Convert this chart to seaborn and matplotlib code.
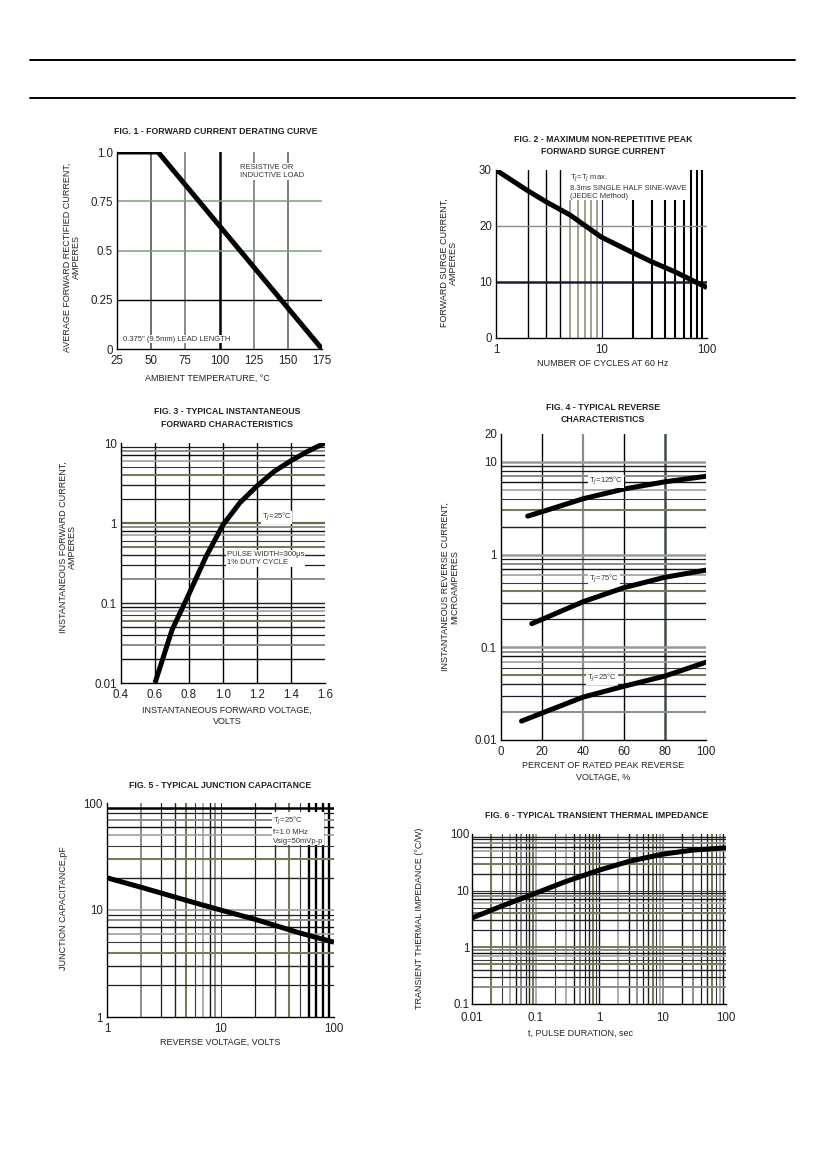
import matplotlib.pyplot as plt
import matplotlib.ticker as mticker
from matplotlib.lines import Line2D
import pandas as pd
import seaborn as sns

sns.set_theme(style="white")
plt.rcParams['font.family'] = ['Liberation Sans', 'DejaVu Sans']

# Fig 1 - forward current derating
temp_c = [25, 55, 175]
derate_amps = [1.0, 1.0, 0.0]

# Fig 2 - peak forward surge current
surge_cycles = [1, 2, 3, 5, 10, 20, 30, 50, 100]
surge_amps = [30, 26.3, 24.3, 22.0, 18.0, 15.2, 13.6, 11.8, 9.0]

# Fig 3 - forward characteristics
fwd_volts = [0.6, 0.7, 0.8, 0.9, 1.0, 1.1, 1.2, 1.3, 1.4, 1.5, 1.6]
fwd_amps = [0.01, 0.046, 0.13, 0.38, 0.95, 1.8, 2.9, 4.4, 6.0, 7.9, 10.0]

# Fig 4 - reverse characteristics
rev_pct_125 = [13, 20, 40, 60, 80, 100]
rev_ua_125 = [2.6, 2.9, 4.0, 5.1, 6.1, 7.0]
rev_pct_75 = [15, 20, 40, 60, 80, 100]
rev_ua_75 = [0.18, 0.20, 0.31, 0.44, 0.57, 0.68]
rev_pct_25 = [10, 20, 40, 60, 80, 100]
rev_ua_25 = [0.016, 0.0195, 0.029, 0.038, 0.049, 0.069]

# Fig 5 - junction capacitance
cap_volts = [1, 2, 5, 10, 20, 50, 100]
cap_pf = [20, 16.3, 12.3, 10, 8.2, 6.1, 5]

# Fig 6 - transient thermal impedance
pulse_sec = [0.01, 0.03, 0.1, 0.3, 1, 3, 10, 30, 100]
thermal_cw = [3.3, 5.4, 9.0, 14.5, 23, 33, 44, 52, 57]

W, H = 826, 1169
fig = plt.figure(figsize=(W / 100, H / 100), dpi=100)
fig.patch.set_facecolor('white')

# header rules
for yy in (60, 98):
    fig.add_artist(Line2D([30 / W, 795 / W], [1 - yy / H, 1 - yy / H],
                          color='black', lw=1.4))

GRID_COLORS = ['#111111', '#8c8c8c', '#1c1c2e', '#222222', '#7a7a5a', '#3a3a3a', '#a0a0a0']
GRID_WIDTHS = [1.0, 1.4, 0.9, 1.0, 1.5, 0.8, 1.2]


def add_ax(l, t, r, b):
    return fig.add_axes([l / W, 1 - b / H, (r - l) / W, (b - t) / H])


def ftext(x, y, s, **kw):
    kw.setdefault('fontsize', 6.5)
    kw.setdefault('ha', 'center')
    kw.setdefault('va', 'center')
    fig.text(x / W, 1 - y / H, s, color='#222222', **kw)


def style(ax, xgrid=True, ygrid=True, offset=0):
    sns.despine(ax=ax)
    for sp in ('left', 'bottom'):
        ax.spines[sp].set_color('black')
        ax.spines[sp].set_linewidth(1.0)
    ax.tick_params(which='both', length=0, labelsize=8.3, pad=3, colors='#222222')
    ax.tick_params(axis='x', pad=4)
    ax.set_xlabel('')
    ax.set_ylabel('')
    i = offset
    for axis, on in ((ax.xaxis, xgrid), (ax.yaxis, ygrid)):
        lo, hi = sorted(axis.get_view_interval())
        ticks = axis.get_major_ticks() + axis.get_minor_ticks()
        locs = list(axis.get_majorticklocs()) + list(axis.get_minorticklocs())
        for tk, loc in zip(ticks, locs):
            g = tk.gridline
            inside = lo * 1.0001 < loc < hi * 0.9999 if lo > 0 else lo < loc < hi - 1e-9
            g.set_visible(on and inside)
            g.set_color(GRID_COLORS[i % len(GRID_COLORS)])
            g.set_linewidth(GRID_WIDTHS[i % len(GRID_WIDTHS)])
            g.set_linestyle('-')
            g.set_zorder(0.5)
            i += 1


def log_minor(axis):
    axis.set_minor_locator(mticker.LogLocator(base=10, subs=range(2, 10), numticks=20))
    axis.set_minor_formatter(mticker.NullFormatter())


def grid_at(axis, which, value, color, lw):
    ticks = axis.get_major_ticks() if which == 'major' else axis.get_minor_ticks()
    locs = axis.get_majorticklocs() if which == 'major' else axis.get_minorticklocs()
    for tk, loc in zip(ticks, locs):
        if abs(loc - value) < 1e-6 * max(1, abs(value)):
            tk.gridline.set_color(color)
            tk.gridline.set_linewidth(lw)


def note(ax, x, y, s, **kw):
    kw.setdefault('fontsize', 5.5)
    ax.text(x, y, s, transform=ax.transAxes, color='#333333', zorder=5,
            bbox=dict(facecolor='white', edgecolor='none', pad=0.6), **kw)


LINE = dict(color='black', lw=3.6, solid_capstyle='butt', zorder=4)

# ---------------- Fig 1 ----------------
ax1 = add_ax(117, 152, 322, 349)
df1 = pd.DataFrame({'temp': temp_c, 'amps': derate_amps})
sns.lineplot(data=df1, x='temp', y='amps', ax=ax1, **LINE)
ax1.set_xlim(25, 175)
ax1.set_ylim(0, 1.0)
ax1.set_xticks([25, 50, 75, 100, 125, 150, 175])
ax1.set_yticks([0, 0.25, 0.5, 0.75, 1.0], ['0', '0.25', '0.5', '0.75', '1.0'])
ax1.grid(True, which='major')
style(ax1)
for v, c, w in [(50, '#555555', 1.2), (75, '#777777', 1.2), (100, 'black', 1.8),
                (125, '#777777', 1.2), (150, '#666666', 1.2)]:
    grid_at(ax1.xaxis, 'major', v, c, w)
for v, c, w in [(0.25, 'black', 1.0), (0.5, '#79a279', 1.1), (0.75, '#79a279', 1.1)]:
    grid_at(ax1.yaxis, 'major', v, c, w)
note(ax1, 0.60, 0.90, 'RESISTIVE OR\nINDUCTIVE LOAD', va='center', ha='left')
note(ax1, 0.03, 0.05, '0.375" (9.5mm) LEAD LENGTH', va='center', ha='left')
ftext(216, 131, 'FIG. 1 - FORWARD CURRENT DERATING CURVE', fontweight='bold', fontsize=6.3)
ftext(72, 257, 'AVERAGE FORWARD RECTIFIED CURRENT,\nAMPERES', rotation=90, linespacing=1.1)
ftext(207, 378, 'AMBIENT TEMPERATURE, °C')

# ---------------- Fig 2 ----------------
ax2 = add_ax(496, 170, 707, 338)
df2 = pd.DataFrame({'cycles': surge_cycles, 'amps': surge_amps})
sns.lineplot(data=df2, x='cycles', y='amps', ax=ax2, **LINE)
ax2.set_xscale('log')
ax2.set_xlim(1, 100)
ax2.set_ylim(0, 30)
ax2.set_xticks([1, 10, 100], ['1', '10', '100'])
log_minor(ax2.xaxis)
ax2.set_yticks([0, 10, 20, 30])
ax2.grid(True, which='both')
style(ax2, offset=1)
for v in (2, 3, 4):
    grid_at(ax2.xaxis, 'minor', v, 'black', 1.0)
for v in (5, 6, 7, 8, 9):
    grid_at(ax2.xaxis, 'minor', v, '#8a8a6e', 1.1)
for v in (20, 30, 40, 50, 60, 70, 80, 90):
    grid_at(ax2.xaxis, 'minor', v, 'black', 1.5)
grid_at(ax2.yaxis, 'major', 10, '#1c1c3a', 1.8)
grid_at(ax2.yaxis, 'major', 20, '#8c8c8c', 1.0)
note(ax2, 0.35, 0.905, 'T$_J$=T$_J$ max.\n8.3ms SINGLE HALF SINE-WAVE\n(JEDEC Method)',
     va='center', ha='left', linespacing=1.2)
ftext(603, 140, 'FIG. 2 - MAXIMUM NON-REPETITIVE PEAK', fontweight='bold', fontsize=6.3)
ftext(603, 152, 'FORWARD SURGE CURRENT', fontweight='bold', fontsize=6.3)
ftext(449, 263, 'FORWARD SURGE CURRENT,\nAMPERES', rotation=90, linespacing=1.1)
ftext(603, 364, 'NUMBER OF CYCLES AT 60 Hz')

# ---------------- Fig 3 ----------------
ax3 = add_ax(121, 443, 325, 683)
df3 = pd.DataFrame({'volts': fwd_volts, 'amps': fwd_amps})
sns.lineplot(data=df3, x='volts', y='amps', ax=ax3, **LINE)
ax3.set_yscale('log')
ax3.set_xlim(0.4, 1.6)
ax3.set_ylim(0.01, 10)
ax3.set_xticks([0.4, 0.6, 0.8, 1.0, 1.2, 1.4, 1.6],
               ['0.4', '0.6', '0.8', '1.0', '1.2', '1.4', '1.6'])
ax3.set_yticks([0.01, 0.1, 1, 10], ['0.01', '0.1', '1', '10'])
log_minor(ax3.yaxis)
ax3.grid(True, which='both')
style(ax3, offset=2)
for tk in ax3.xaxis.get_major_ticks():
    tk.gridline.set_color('black')
    tk.gridline.set_linewidth(1.0)
grid_at(ax3.yaxis, 'major', 1, '#6b6b45', 1.6)
note(ax3, 0.69, 0.69, 'T$_J$=25°C', va='center', ha='left')
note(ax3, 0.52, 0.52, 'PULSE WIDTH=300μs\n1% DUTY CYCLE', va='center', ha='left')
ftext(227, 412, 'FIG. 3 - TYPICAL INSTANTANEOUS', fontweight='bold', fontsize=6.3)
ftext(227, 424, 'FORWARD CHARACTERISTICS', fontweight='bold', fontsize=6.3)
ftext(68, 547, 'INSTANTANEOUS FORWARD CURRENT,\nAMPERES', rotation=90, linespacing=1.1)
ftext(227, 710, 'INSTANTANEOUS FORWARD VOLTAGE,')
ftext(227, 721, 'VOLTS')

# ---------------- Fig 4 ----------------
ax4 = add_ax(501, 434, 706, 740)
df4 = pd.concat([
    pd.DataFrame({'pct': rev_pct_125, 'ua': rev_ua_125, 'tj': '125'}),
    pd.DataFrame({'pct': rev_pct_75, 'ua': rev_ua_75, 'tj': '75'}),
    pd.DataFrame({'pct': rev_pct_25, 'ua': rev_ua_25, 'tj': '25'}),
])
sns.lineplot(data=df4, x='pct', y='ua', hue='tj', units='tj', estimator=None,
             palette={'125': 'black', '75': 'black', '25': 'black'}, legend=False,
             ax=ax4, lw=3.6, zorder=4)
ax4.set_yscale('log')
ax4.set_xlim(0, 100)
ax4.set_ylim(0.01, 20)
ax4.set_xticks([0, 20, 40, 60, 80, 100])
ax4.set_yticks([0.01, 0.1, 1, 10, 20], ['0.01', '0.1', '1', '10', '20'])
log_minor(ax4.yaxis)
ax4.grid(True, which='both')
style(ax4, offset=3)
for v, c, w in [(20, 'black', 1.0), (40, '#8c8c8c', 1.6), (60, 'black', 1.0), (80, '#3f4f3f', 1.8)]:
    grid_at(ax4.xaxis, 'major', v, c, w)
for v in (0.1, 1, 10):
    grid_at(ax4.yaxis, 'major', v, '#9a9a9a', 1.8)
note(ax4, 0.43, 0.845, 'T$_J$=125°C', va='center', ha='left')
note(ax4, 0.43, 0.525, 'T$_J$=75°C', va='center', ha='left')
note(ax4, 0.42, 0.203, 'T$_J$=25°C', va='center', ha='left')
ftext(603, 408, 'FIG. 4 - TYPICAL REVERSE', fontweight='bold', fontsize=6.3)
ftext(603, 420, 'CHARACTERISTICS', fontweight='bold', fontsize=6.3)
ftext(450, 587, 'INSTANTANEOUS REVERSE CURRENT,\nMICROAMPERES', rotation=90, linespacing=1.1)
ftext(603, 766, 'PERCENT OF RATED PEAK REVERSE')
ftext(603, 777, 'VOLTAGE, %')

# ---------------- Fig 5 ----------------
ax5 = add_ax(107, 803, 334, 1017)
df5 = pd.DataFrame({'volts': cap_volts, 'pf': cap_pf})
sns.lineplot(data=df5, x='volts', y='pf', ax=ax5, **LINE)
ax5.set_xscale('log')
ax5.set_yscale('log')
ax5.set_xlim(1, 100)
ax5.set_ylim(1, 100)
ax5.set_xticks([1, 10, 100], ['1', '10', '100'])
ax5.set_yticks([1, 10, 100], ['1', '10', '100'])
log_minor(ax5.xaxis)
log_minor(ax5.yaxis)
ax5.grid(True, which='both')
style(ax5, offset=4)
for v in (60, 70, 80, 90):
    grid_at(ax5.xaxis, 'minor', v, 'black', 1.7)
grid_at(ax5.yaxis, 'minor', 90, 'black', 1.8)
note(ax5, 0.73, 0.875, 'T$_J$=25°C\nf=1.0 MHz\nVsig=50mVp-p', va='center', ha='left',
     linespacing=1.35)
ftext(220, 785, 'FIG. 5 - TYPICAL JUNCTION CAPACITANCE', fontweight='bold', fontsize=6.3)
ftext(63, 908, 'JUNCTION CAPACITANCE,pF', rotation=90)
ftext(220, 1042, 'REVERSE VOLTAGE, VOLTS')

# ---------------- Fig 6 ----------------
ax6 = add_ax(472, 834, 726, 1004)
df6 = pd.DataFrame({'t': pulse_sec, 'z': thermal_cw})
sns.lineplot(data=df6, x='t', y='z', ax=ax6, **LINE)
ax6.set_xscale('log')
ax6.set_yscale('log')
ax6.set_xlim(0.01, 100)
ax6.set_ylim(0.1, 100)
ax6.set_xticks([0.01, 0.1, 1, 10, 100], ['0.01', '0.1', '1', '10', '100'])
ax6.set_yticks([0.1, 1, 10, 100], ['0.1', '1', '10', '100'])
log_minor(ax6.xaxis)
log_minor(ax6.yaxis)
ax6.grid(True, which='both')
style(ax6, offset=5)
ax6.tick_params(axis='x', pad=6)
ax6.tick_params(axis='y', pad=2)
ftext(597, 815, 'FIG. 6 - TYPICAL TRANSIENT THERMAL IMPEDANCE', fontweight='bold', fontsize=6.3)
ftext(420, 918, 'TRANSIENT THERMAL IMPEDANCE (°C/W)', rotation=90)
ftext(580, 1033, 't, PULSE DURATION, sec')

fig.savefig('out.png', dpi=100, facecolor='white')
